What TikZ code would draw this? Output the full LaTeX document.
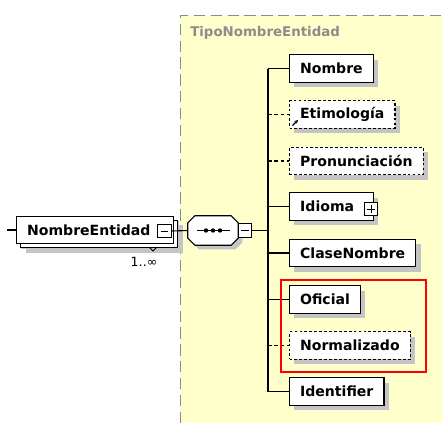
\documentclass[tikz,border=0pt]{standalone}
\usepackage{fontspec}
\setmainfont{DejaVu Sans}
\usepackage{tikz}
\usetikzlibrary{shadows,arrows.meta}

\definecolor{tipoyellow}{HTML}{FFFFCC}
\definecolor{tipogray}{HTML}{8C8C8C}
\definecolor{sombra}{HTML}{C4C4C4}

\tikzset{
  elem/.style={draw, fill=white, line width=0.8pt, anchor=west,
    font=\bfseries\fontsize{10}{12}\selectfont,
    minimum height=19.5pt, inner xsep=7.5pt, inner ysep=0pt,
    drop shadow={shadow xshift=3.5pt, shadow yshift=-3.5pt, fill=sombra, opacity=1}},
  optelem/.style={elem, dash pattern=on 2pt off 1.5pt},
  pmbox/.style={draw, fill=white, line width=0.6pt, minimum size=9.5pt, inner sep=0pt},
  minusbox/.style={pmbox, path picture={
    \draw[line width=0.6pt] ([xshift=2pt]path picture bounding box.west) -- ([xshift=-2pt]path picture bounding box.east);}},
  plusbox/.style={pmbox, path picture={
    \draw[line width=0.6pt] ([xshift=2pt]path picture bounding box.west) -- ([xshift=-2pt]path picture bounding box.east);
    \draw[line width=0.6pt] ([yshift=2pt]path picture bounding box.south) -- ([yshift=-2pt]path picture bounding box.north);}},
  rama/.style={line width=0.8pt},
  optrama/.style={rama, dash pattern=on 2.5pt off 2pt}
}

\begin{document}
\begin{tikzpicture}[x=0.025cm, y=-0.025cm]
\useasboundingbox (0,0) rectangle (442,423);

% complex type area
\fill[tipoyellow] (180,15) rectangle (442,423);
\draw[tipogray, line width=0.6pt, dash pattern=on 8pt off 4pt] (180,423) -- (180,15) -- (442,15);
\node[anchor=west, inner sep=0pt, text=tipogray, font=\bfseries\fontsize{9.5}{11}\selectfont] (tipo) at (190,33) {TipoNombreEntidad};

% element with 1..oo
\coordinate (entrada) at (7,230);
\node[elem, minimum width=107pt,
  drop shadow={shadow xshift=6.5pt, shadow yshift=-6.5pt, fill=sombra, opacity=1},
  copy shadow={shadow xshift=3pt, shadow yshift=-3pt, fill=white, draw=black, line width=0.8pt}]
  (entidad) at (16,230) {NombreEntidad\hspace*{9pt}};
\node[minusbox] (entmenos) at (164.5,231) {};
\draw[line width=0.6pt] (149,247) -- (153,251) -- (157,247);
\node[font=\fontsize{9}{10}\selectfont, inner sep=0pt] (mult) at (144,262) {1..∞};

% sequence
\node[minimum width=35.5pt, minimum height=20.5pt, inner sep=0pt] (seq) at (213,230.5) {};
\draw[fill=white, line width=0.8pt, drop shadow={shadow xshift=3pt, shadow yshift=-3pt, fill=sombra, opacity=1}]
  ([xshift=5pt]seq.north west) -- ([xshift=-5pt]seq.north east) -- ([yshift=-5pt]seq.north east)
  -- ([yshift=5pt]seq.south east) -- ([xshift=-5pt]seq.south east) -- ([xshift=5pt]seq.south west)
  -- ([yshift=5pt]seq.south west) -- ([yshift=-5pt]seq.north west) -- cycle;
\draw[line width=0.7pt] (197,230.5) -- (230,230.5);
\fill (206,230.5) circle (2.2) (213,230.5) circle (2.2) (220,230.5) circle (2.2);
\node[minusbox] (seqmenos) at (245,230.5) {};

\draw[rama] (entrada) -- (entidad.west);
\draw[rama] (entmenos.east) -- (seq.west);

% children
\coordinate (tronco) at (268,230.5);
\node[elem] (nombre) at (289,68.5) {Nombre};
\node[optelem] (etimologia) at (289,114.5) {Etimología};
\draw[-{Stealth[length=2.5pt,width=2.5pt]}, line width=0.8pt] (292.5,125.5) -- (298,120);
\node[optelem] (pronunciacion) at (289,161) {Pronunciación};
\node[elem, minimum width=59.5pt] (idioma) at (289,206.5) {Idioma\hspace*{6pt}};
\node[plusbox] (idiomamas) at (371,209) {};
\node[elem] (clase) at (289,253) {ClaseNombre};
\node[elem] (oficial) at (289,299.5) {Oficial};
\node[optelem] (normalizado) at (289,345.5) {Normalizado};
\node[elem] (identifier) at (289,391.5) {Identifier};

\draw[rama] (seqmenos.east) -- (tronco);
\draw[rama] (nombre.west -| tronco) -- (identifier.west -| tronco);
\draw[rama] (nombre.west -| tronco) -- (nombre.west);
\draw[optrama] (etimologia.west -| tronco) -- (etimologia.west);
\draw[optrama] (pronunciacion.west -| tronco) -- (pronunciacion.west);
\draw[rama] (idioma.west -| tronco) -- (idioma.west);
\draw[rama] (clase.west -| tronco) -- (clase.west);
\draw[rama] (oficial.west -| tronco) -- (oficial.west);
\draw[optrama] (normalizado.west -| tronco) -- (normalizado.west);
\draw[rama] (identifier.west -| tronco) -- (identifier.west);

% highlight
\draw[red, line width=1.3pt] (281,280) rectangle (426,372);

\end{tikzpicture}
\end{document}
